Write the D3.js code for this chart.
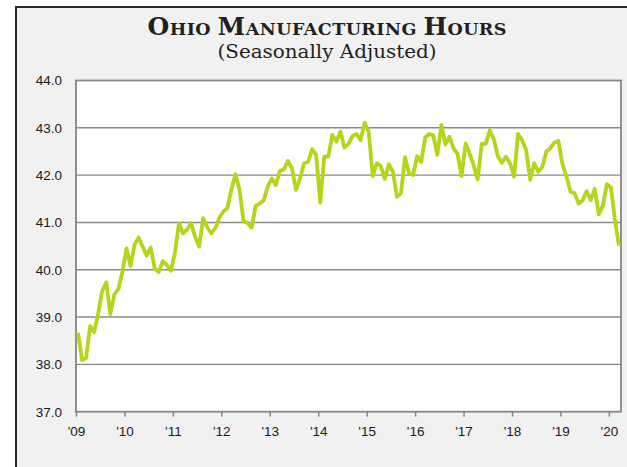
<!DOCTYPE html>
<html>
<head>
<meta charset="utf-8">
<script src="https://cdn.jsdelivr.net/npm/d3@7"></script>
<style>
  body { margin: 0; background: #fff; }
</style>
</head>
<body>
<svg id="chart"></svg>
<script>
// monthly values, Jan 2009 .. Mar 2020
const hours = [
  38.67, 38.09, 38.14, 38.81, 38.68, 39.08, 39.56, 39.73, 39.06, 39.48, 39.59, 39.96, // 2009
  40.45, 40.08, 40.53, 40.68, 40.49, 40.30, 40.47, 40.03, 39.95, 40.18, 40.10, 39.98, // 2010
  40.35, 40.98, 40.77, 40.85, 40.98, 40.70, 40.49, 41.09, 40.90, 40.77, 40.88, 41.10, // 2011
  41.23, 41.30, 41.70, 42.02, 41.69, 41.03, 40.99, 40.89, 41.35, 41.40, 41.47, 41.76, // 2012
  41.93, 41.79, 42.09, 42.12, 42.30, 42.14, 41.69, 41.93, 42.25, 42.28, 42.55, 42.43, // 2013
  41.42, 42.39, 42.39, 42.85, 42.71, 42.92, 42.58, 42.66, 42.83, 42.87, 42.74, 43.11, // 2014
  42.92, 41.98, 42.25, 42.19, 41.92, 42.23, 42.07, 41.54, 41.62, 42.38, 42.04, 42.00, // 2015
  42.40, 42.28, 42.80, 42.87, 42.84, 42.43, 43.06, 42.65, 42.81, 42.57, 42.45, 41.98, // 2016
  42.67, 42.46, 42.21, 41.91, 42.66, 42.66, 42.95, 42.76, 42.40, 42.26, 42.39, 42.25, // 2017
  41.97, 42.87, 42.74, 42.53, 41.90, 42.25, 42.07, 42.17, 42.50, 42.57, 42.69, 42.72, // 2018
  42.23, 41.97, 41.65, 41.62, 41.40, 41.47, 41.66, 41.47, 41.71, 41.17, 41.35, 41.81, // 2019
  41.74, 41.05, 40.51                                                                 // 2020
];

const yearLabels = ["'09", "'10", "'11", "'12", "'13", "'14", "'15", "'16", "'17", "'18", "'19", "'20"];
const yTicks = [37, 38, 39, 40, 41, 42, 43, 44];
const titleParts = [['O', 'HIO '], ['M', 'ANUFACTURING '], ['H', 'OURS']];
const subtitle = '(Seasonally Adjusted)';

const width = 627;
const height = 467;
const plot = {left: 76, right: 621, top: 80.5, bottom: 411.7};

const xScale = d3.scaleLinear()
  .domain([-0.5, hours.length - 0.5])
  .range([plot.left, plot.right]);

const yScale = d3.scaleLinear()
  .domain([37, 44])
  .range([plot.bottom, plot.top]);

const chart = d3.select('#chart')
  .attr('width', width)
  .attr('height', height);

// outer panel
chart.append('rect')
  .attr('x', 16).attr('y', 7)
  .attr('width', 700).attr('height', 600)
  .attr('fill', '#f1f1f1')
  .attr('stroke', '#2a2a2a')
  .attr('stroke-width', 2);

// title in small caps
const title = chart.append('text')
  .attr('x', 327).attr('y', 35)
  .attr('text-anchor', 'middle')
  .attr('font-family', 'DejaVu Serif')
  .attr('font-weight', 'bold')
  .attr('fill', '#231f20')
  .attr('textLength', 359)
  .attr('lengthAdjust', 'spacing');

titleParts.forEach(([cap, rest]) => {
  title.append('tspan').attr('font-size', 25).text(cap);
  title.append('tspan').attr('font-size', 17.5).text(rest);
});

chart.append('text')
  .attr('x', 327).attr('y', 58)
  .attr('text-anchor', 'middle')
  .attr('font-family', 'DejaVu Serif')
  .attr('font-size', 18.5)
  .attr('fill', '#231f20')
  .attr('textLength', 219)
  .attr('lengthAdjust', 'spacingAndGlyphs')
  .text(subtitle);

chart.append('rect')
  .attr('x', plot.left).attr('y', plot.top)
  .attr('width', plot.right - plot.left)
  .attr('height', plot.bottom - plot.top)
  .attr('fill', '#fff');

chart.append('g')
  .selectAll('line')
  .data(yTicks.slice(1, -1))
  .enter()
  .append('line')
  .attr('x1', plot.left).attr('x2', plot.right)
  .attr('y1', d => yScale(d)).attr('y2', d => yScale(d))
  .attr('stroke', '#8a8a8a')
  .attr('stroke-width', 1.4);

chart.append('rect')
  .attr('x', plot.left).attr('y', plot.top)
  .attr('width', plot.right - plot.left)
  .attr('height', plot.bottom - plot.top)
  .attr('fill', 'none')
  .attr('stroke', '#858585')
  .attr('stroke-width', 1.8);

const xAxis = chart.append('g')
  .attr('transform', `translate(0, ${plot.bottom})`)
  .call(d3.axisBottom(xScale)
    .tickValues(yearLabels.map((_, i) => i * 12 - 0.5))
    .tickFormat((_, i) => yearLabels[i])
    .tickSize(5)
    .tickPadding(10));

const yAxis = chart.append('g')
  .attr('transform', `translate(${plot.left}, 0)`)
  .call(d3.axisLeft(yScale)
    .tickValues(yTicks)
    .tickFormat(d3.format('.1f'))
    .tickSize(0)
    .tickPadding(14));

[xAxis, yAxis].forEach(axis => {
  axis.select('.domain').remove();
  axis.selectAll('line').attr('stroke', '#858585').attr('stroke-width', 1.5);
  axis.selectAll('text')
    .attr('font-family', 'Liberation Sans, Arial, sans-serif')
    .attr('font-size', 13.5)
    .attr('fill', '#1a1a1a');
});

const line = d3.line()
  .x((d, i) => xScale(i))
  .y(d => yScale(d));

chart.append('path')
  .datum(hours)
  .attr('d', line)
  .attr('fill', 'none')
  .attr('stroke', '#b4d61a')
  .attr('stroke-width', 3.8)
  .attr('stroke-linejoin', 'round');
</script>
</body>
</html>
